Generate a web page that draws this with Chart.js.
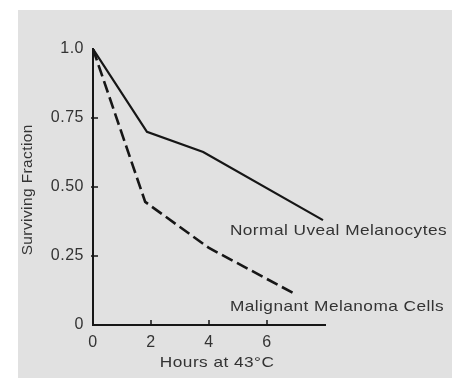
<!DOCTYPE html>
<html>
<head>
<meta charset="utf-8">
<script src="https://cdn.jsdelivr.net/npm/chart.js@4/dist/chart.umd.min.js"></script>
<style>
html,body{margin:0;padding:0;background:#fff;}
#wrap{width:462px;height:378px;}
</style>
</head>
<body>
<div id="wrap"><canvas id="c" width="462" height="378"></canvas></div>
<script>
// ---- data ----
const seriesNames = ['Normal Uveal Melanocytes', 'Malignant Melanoma Cells'];
const normalHours = [0, 1.86, 3.8, 7.93];
const normalFraction = [1.0, 0.70, 0.627, 0.38];
const malignantHours = [0, 1.8, 4.0, 6.9];
const malignantFraction = [1.0, 0.446, 0.279, 0.116];
const xTicks = [0, 2, 4, 6];
const yTicks = [0, 0.25, 0.5, 0.75, 1.0];
const yTickLabels = ['0', '0.25', '0.50', '0.75', '1.0'];
const xTitle = 'Hours at 43°C';
const yTitle = 'Surviving Fraction';

const toPoints = (xs, ys) => xs.map((x, i) => ({x: x, y: ys[i]}));

const INK = '#161616';
const TEXT = '#333333';
const FONT = '"Liberation Sans", Arial, Helvetica, sans-serif';

function wideText(ctx, text, x, y, sx, align) {
  ctx.save();
  ctx.translate(x, y);
  ctx.scale(sx, 1);
  ctx.textAlign = align;
  ctx.fillText(text, 0, 0);
  ctx.restore();
}

const decor = {
  id: 'decor',
  beforeDraw(chart) {
    const ctx = chart.ctx;
    ctx.fillStyle = '#ffffff';
    ctx.fillRect(0, 0, chart.width, chart.height);
    ctx.fillStyle = '#e1e1e1';
    ctx.fillRect(18, 10, 434, 368);
    ctx.letterSpacing = '0.5px';
  },
  afterDraw(chart) {
    const ctx = chart.ctx;
    const xs = chart.scales.x, ys = chart.scales.y;
    const x0 = xs.getPixelForValue(0), y0 = ys.getPixelForValue(0);
    ctx.save();
    // inner tick marks
    ctx.strokeStyle = INK;
    ctx.lineWidth = 1.5;
    ctx.beginPath();
    xTicks.forEach(v => {
      if (v === 0) return;
      const px = xs.getPixelForValue(v);
      ctx.moveTo(px, y0); ctx.lineTo(px, y0 - 5);
    });
    yTicks.forEach(v => {
      if (v === 0 || v === 1) return;
      const py = ys.getPixelForValue(v);
      ctx.moveTo(x0 - 2, py); ctx.lineTo(x0 + 5, py);
    });
    ctx.stroke();

    ctx.fillStyle = TEXT;
    ctx.textBaseline = 'middle';
    // series labels
    ctx.font = '15px ' + FONT;
    ctx.letterSpacing = '0.4px';
    wideText(ctx, seriesNames[0], xs.getPixelForValue(4.72), ys.getPixelForValue(0.34), 1.15, 'left');
    wideText(ctx, seriesNames[1], xs.getPixelForValue(4.72), ys.getPixelForValue(0.065), 1.15, 'left');
    // x title
    wideText(ctx, xTitle, xs.getPixelForValue(4.28), 363, 1.15, 'center');
    // y title
    ctx.font = '14px ' + FONT;
    ctx.translate(28, ys.getPixelForValue(0.49));
    ctx.rotate(-Math.PI / 2);
    wideText(ctx, yTitle, 0, 0, 1.1, 'center');
    ctx.restore();
  }
};

new Chart(document.getElementById('c'), {
  type: 'line',
  data: {
    datasets: [
      {
        label: seriesNames[0],
        data: toPoints(normalHours, normalFraction),
        borderColor: INK,
        borderWidth: 2.2,
        pointRadius: 0,
        tension: 0,
        fill: false
      },
      {
        label: seriesNames[1],
        data: toPoints(malignantHours, malignantFraction),
        borderColor: INK,
        borderWidth: 2.6,
        borderDash: [12, 5],
        pointRadius: 0,
        tension: 0,
        fill: false
      }
    ]
  },
  options: {
    responsive: false,
    animation: false,
    devicePixelRatio: 1,
    layout: {padding: {left: 0, right: 137, top: 49, bottom: 0}},
    plugins: {legend: {display: false}, tooltip: {enabled: false}},
    scales: {
      x: {
        type: 'linear',
        min: 0,
        max: 8,
        afterBuildTicks: s => { s.ticks = xTicks.map(v => ({value: v})); },
        afterFit: s => { s.height = 53; },
        grid: {display: false, drawTicks: false},
        border: {display: true, color: INK, width: 2},
        ticks: {
          color: TEXT,
          padding: 8,
          font: {family: FONT, size: 16},
          callback: v => String(v)
        }
      },
      y: {
        type: 'linear',
        min: 0,
        max: 1,
        afterBuildTicks: s => { s.ticks = yTicks.map(v => ({value: v})); },
        afterFit: s => { s.width = 93; },
        grid: {display: false, drawTicks: false},
        border: {display: true, color: INK, width: 2},
        ticks: {
          color: TEXT,
          padding: 9,
          font: {family: FONT, size: 16},
          callback: (v, i) => yTickLabels[yTicks.indexOf(v)]
        }
      }
    }
  },
  plugins: [decor]
});
</script>
</body>
</html>
